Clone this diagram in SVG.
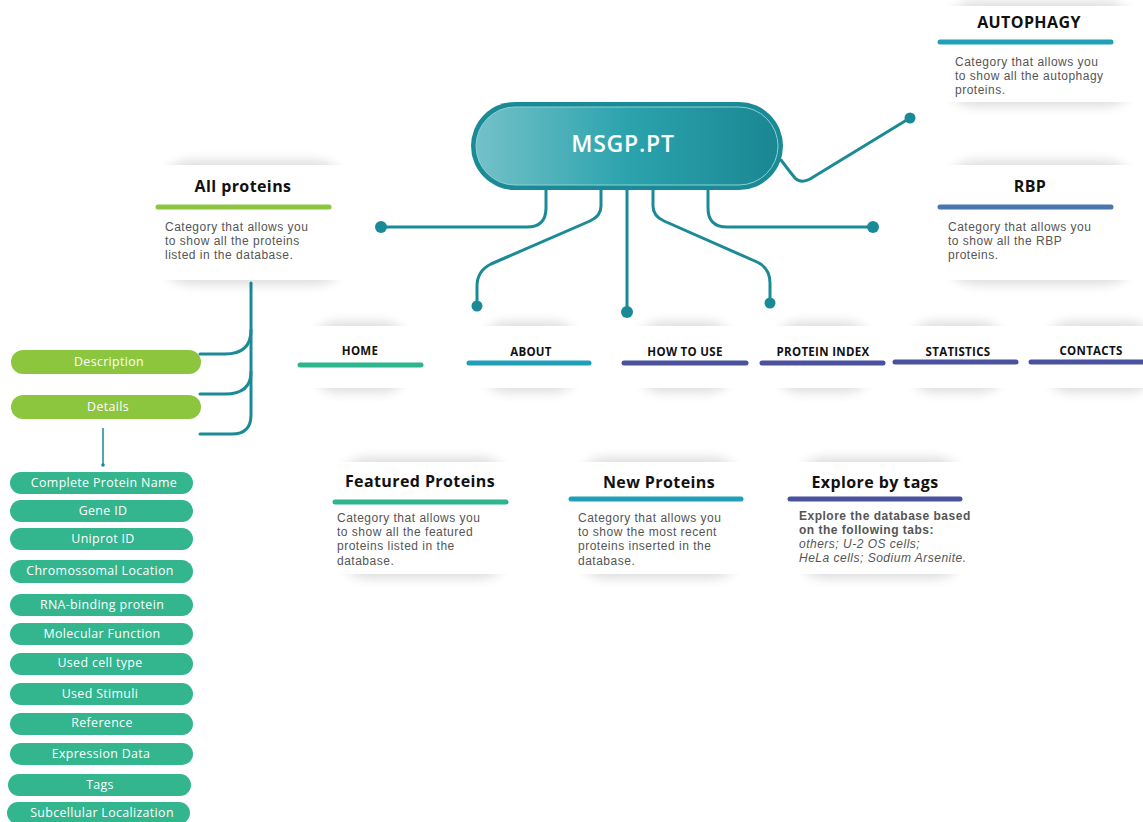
<svg xmlns="http://www.w3.org/2000/svg" width="1143" height="822" viewBox="0 0 1143 822">
<defs>
<linearGradient id="pillg" x1="0" y1="0" x2="1" y2="0">
<stop offset="0" stop-color="#74c1c8"/>
<stop offset="0.5" stop-color="#2ba3ad"/>
<stop offset="1" stop-color="#1a8792"/>
</linearGradient>
<filter id="bl" x="-20%" y="-50%" width="140%" height="200%">
<feGaussianBlur stdDeviation="6"/>
</filter>
<style>
.shd{fill:#000;opacity:0.14;filter:url(#bl)}
.card{fill:#fff}
.t{font-family:"Open Sans","Liberation Sans",sans-serif;font-weight:700;fill:#111;text-anchor:middle}
.tt{font-size:16px;letter-spacing:0.4px}
.nv{font-size:11.5px;letter-spacing:0.3px}
.d{font-family:"Liberation Sans",Arial,sans-serif;font-size:12px;letter-spacing:0.5px;fill:#555}
.bar{stroke-width:5;stroke-linecap:round}
.c{fill:none;stroke:#1a8b96;stroke-width:3;stroke-linecap:round;stroke-linejoin:round}
.dot{fill:#1a8b96}
.gp{fill:#8cc63f}
.tp{fill:#33b58e}
.pt{font-family:"Open Sans","Liberation Sans",sans-serif;font-size:12.4px;letter-spacing:0.35px;fill:#fff;text-anchor:middle}
</style>
</defs>
<rect width="1143" height="822" fill="#fff"/>

<g id="connectors">
<path class="c" d="M546 190 V208 Q546 227 527 227 H381"/>
<circle class="dot" cx="381" cy="227" r="6"/>
<path class="c" d="M601 190 V206 Q601 216 590 221 L491 264 Q477 271 477 286 V306"/>
<circle class="dot" cx="477" cy="306" r="5.5"/>
<path class="c" d="M627 190 V312"/>
<circle class="dot" cx="627" cy="312" r="6"/>
<path class="c" d="M653 190 V206 Q653 216 664 221 L757 262 Q770 268 770 283 V303"/>
<circle class="dot" cx="770" cy="303" r="5.5"/>
<path class="c" d="M708 190 V208 Q708 227 727 227 H873"/>
<circle class="dot" cx="873" cy="227" r="6"/>
<path class="c" d="M781 160 Q790 172 795 178 Q801 184 810 179 L910 118"/>
<circle class="dot" cx="910" cy="118" r="5.5"/>
<path class="c" d="M251 283 V415 Q251 434 232 434 H200"/>
<path class="c" d="M251 330 Q251 354 225 354 H200"/>
<path class="c" d="M251 372 Q251 394 225 394 H200"/>
<path d="M103 428 V464" stroke="#1a8b96" stroke-width="1.5" fill="none"/>
<circle class="dot" cx="103" cy="465" r="1.8"/>
</g>

<g id="msgp">
<rect x="471" y="102" width="312" height="88" rx="44" fill="#1a8b96"/>
<rect x="476" y="107" width="302" height="78" rx="39" fill="url(#pillg)" stroke="#8fd0d5" stroke-width="1"/>
<text x="623" y="152" font-family="Open Sans, Liberation Sans, sans-serif" font-size="23" font-weight="600" letter-spacing="0.8" fill="#fff" text-anchor="middle">MSGP.PT</text>
</g>

<g id="all-proteins">
<rect class="shd" x="160" y="161" width="186" height="123" rx="30"/>
<rect class="card" x="138" y="165" width="230" height="115"/>
<text class="t tt" x="243" y="192">All proteins</text>
<line class="bar" x1="158" y1="207" x2="329" y2="207" stroke="#8cc63f"/>
<text class="d" x="165" y="231">Category that allows you</text>
<text class="d" x="165" y="245">to show all the proteins</text>
<text class="d" x="165" y="259">listed in the database.</text>
</g>

<g id="autophagy">
<rect class="shd" x="945" y="2" width="190" height="104" rx="30"/>
<rect class="card" x="922" y="6" width="221" height="96"/>
<text class="t tt" x="1029" y="28">AUTOPHAGY</text>
<line class="bar" x1="940" y1="42" x2="1111" y2="42" stroke="#1fa0b8"/>
<text class="d" x="955" y="66">Category that allows you</text>
<text class="d" x="955" y="80">to show all the autophagy</text>
<text class="d" x="955" y="94">proteins.</text>
</g>

<g id="rbp">
<rect class="shd" x="945" y="161" width="190" height="123" rx="30"/>
<rect class="card" x="922" y="165" width="221" height="115"/>
<text class="t tt" x="1030" y="192">RBP</text>
<line class="bar" x1="940" y1="207" x2="1111" y2="207" stroke="#4a76ae"/>
<text class="d" x="948" y="231">Category that allows you</text>
<text class="d" x="948" y="245">to show all the RBP</text>
<text class="d" x="948" y="259">proteins.</text>
</g>

<g id="home">
<rect class="shd" x="312" y="322" width="96" height="70" rx="25"/>
<rect class="card" x="292" y="326" width="136" height="62"/>
<text class="t nv" x="360" y="355">HOME</text>
<line class="bar" x1="300" y1="365" x2="421" y2="365" stroke="#2db58e" stroke-width="4"/>
</g>
<g id="about">
<rect class="shd" x="482" y="322" width="96" height="70" rx="25"/>
<rect class="card" x="462" y="326" width="136" height="62"/>
<text class="t nv" x="531" y="356">ABOUT</text>
<line class="bar" x1="469" y1="363" x2="589" y2="363" stroke="#1fa0b8" stroke-width="4"/>
</g>
<g id="how-to-use">
<rect class="shd" x="637" y="322" width="96" height="70" rx="25"/>
<rect class="card" x="617" y="326" width="136" height="62"/>
<text class="t nv" x="685" y="356">HOW TO USE</text>
<line class="bar" x1="624" y1="363" x2="746" y2="363" stroke="#4a52a0" stroke-width="4"/>
</g>
<g id="protein-index">
<rect class="shd" x="775" y="322" width="96" height="70" rx="25"/>
<rect class="card" x="755" y="326" width="136" height="62"/>
<text class="t nv" x="823" y="356">PROTEIN INDEX</text>
<line class="bar" x1="762" y1="363" x2="883" y2="363" stroke="#4a52a0" stroke-width="4"/>
</g>
<g id="statistics">
<rect class="shd" x="909" y="322" width="96" height="70" rx="25"/>
<rect class="card" x="889" y="326" width="136" height="62"/>
<text class="t nv" x="958" y="356">STATISTICS</text>
<line class="bar" x1="895" y1="362" x2="1016" y2="362" stroke="#4a52a0" stroke-width="4"/>
</g>
<g id="contacts">
<rect class="shd" x="1045" y="322" width="110" height="70" rx="25"/>
<rect class="card" x="1027" y="326" width="126" height="62"/>
<text class="t nv" x="1091" y="355">CONTACTS</text>
<line class="bar" x1="1031" y1="362" x2="1145" y2="362" stroke="#4a52a0" stroke-width="4"/>
</g>

<g id="featured-proteins">
<rect class="shd" x="338" y="458" width="172" height="120" rx="30"/>
<rect class="card" x="314" y="462" width="220" height="112"/>
<text class="t tt" x="420" y="487">Featured Proteins</text>
<line class="bar" x1="335" y1="502" x2="506" y2="502" stroke="#2db58e"/>
<text class="d" x="337" y="522">Category that allows you</text>
<text class="d" x="337" y="536">to show all the featured</text>
<text class="d" x="337" y="550">proteins listed in the</text>
<text class="d" x="337" y="565">database.</text>
</g>
<g id="new-proteins">
<rect class="shd" x="576" y="458" width="166" height="120" rx="30"/>
<rect class="card" x="554" y="462" width="210" height="112"/>
<text class="t tt" x="659" y="488">New Proteins</text>
<line class="bar" x1="571" y1="499" x2="741" y2="499" stroke="#1fa0b8"/>
<text class="d" x="578" y="522">Category that allows you</text>
<text class="d" x="578" y="536">to show the most recent</text>
<text class="d" x="578" y="550">proteins inserted in the</text>
<text class="d" x="578" y="565">database.</text>
</g>
<g id="explore-by-tags">
<rect class="shd" x="795" y="458" width="170" height="120" rx="30"/>
<rect class="card" x="772" y="462" width="216" height="112"/>
<text class="t tt" x="875" y="488">Explore by tags</text>
<line class="bar" x1="790" y1="499" x2="960" y2="499" stroke="#4a52a0"/>
<text class="d" x="799" y="520" font-weight="700" letter-spacing="0.2">Explore the database based</text>
<text class="d" x="799" y="534" font-weight="700" letter-spacing="0.2">on the following tabs:</text>
<text class="d" x="799" y="548" font-style="italic" fill="#777">others; U-2 OS cells;</text>
<text class="d" x="799" y="562" font-style="italic" fill="#777">HeLa cells; Sodium Arsenite.</text>
</g>

<g id="description"><rect class="gp" x="11" y="350" width="190" height="24" rx="12"/><text class="pt" x="109" y="366" font-size="13.5">Description</text></g>
<g id="details"><rect class="gp" x="11" y="395" width="190" height="24" rx="12"/><text class="pt" x="108" y="411" font-size="13.5">Details</text></g>

<g id="complete-protein-name"><rect class="tp" x="10" y="472" width="183" height="22" rx="11"/><text class="pt" x="104" y="487">Complete Protein Name</text></g>
<g id="gene-id"><rect class="tp" x="10" y="500" width="183" height="22" rx="11"/><text class="pt" x="103" y="515">Gene ID</text></g>
<g id="uniprot-id"><rect class="tp" x="10" y="528" width="183" height="22" rx="11"/><text class="pt" x="103" y="543">Uniprot ID</text></g>
<g id="chromossomal-location"><rect class="tp" x="10" y="560" width="183" height="23" rx="11.5"/><text class="pt" x="100" y="575">Chromossomal Location</text></g>
<g id="rna-binding-protein"><rect class="tp" x="10" y="594" width="183" height="22" rx="11"/><text class="pt" x="102" y="609">RNA-binding protein</text></g>
<g id="molecular-function"><rect class="tp" x="10" y="623" width="183" height="22" rx="11"/><text class="pt" x="102" y="638">Molecular Function</text></g>
<g id="used-cell-type"><rect class="tp" x="10" y="653" width="183" height="22" rx="11"/><text class="pt" x="100" y="667">Used cell type</text></g>
<g id="used-stimuli"><rect class="tp" x="10" y="683" width="183" height="22" rx="11"/><text class="pt" x="100" y="698">Used Stimuli</text></g>
<g id="reference"><rect class="tp" x="10" y="713" width="183" height="22" rx="11"/><text class="pt" x="102" y="727">Reference</text></g>
<g id="expression-data"><rect class="tp" x="10" y="743" width="183" height="22" rx="11"/><text class="pt" x="101" y="758">Expression Data</text></g>
<g id="tags"><rect class="tp" x="8" y="774" width="183" height="22" rx="11"/><text class="pt" x="100" y="789">Tags</text></g>
<g id="subcellular-localization"><rect class="tp" x="7" y="802" width="183" height="22" rx="11"/><text class="pt" x="102" y="817">Subcellular Localization</text></g>
</svg>
